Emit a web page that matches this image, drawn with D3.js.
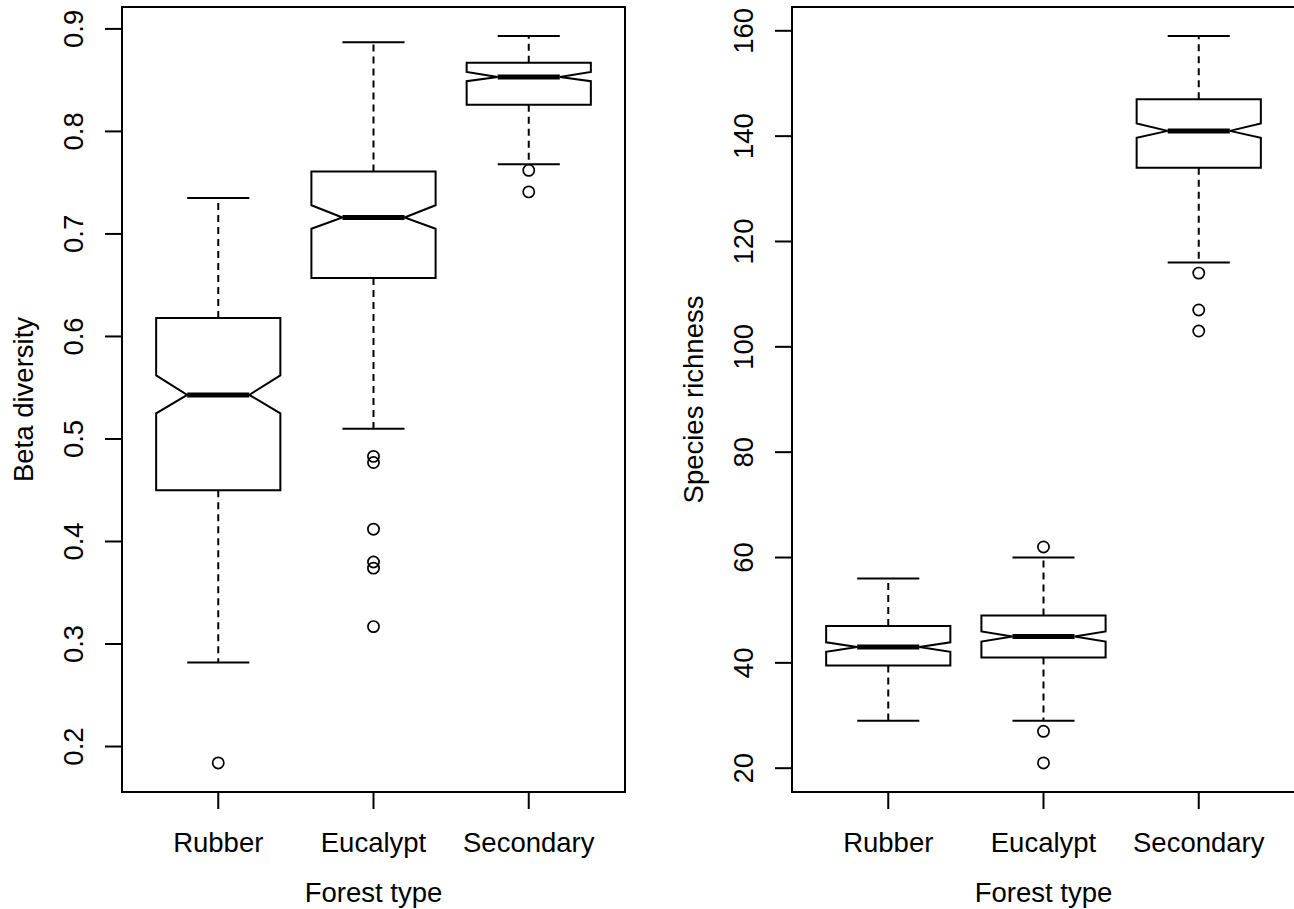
<!DOCTYPE html>
<html>
<head>
<meta charset="utf-8">
<script src="https://cdn.jsdelivr.net/npm/d3@7"></script>
<style>
  body { margin: 0; background: white; }
  text { font-family: "Liberation Sans", Arial, sans-serif; fill: black; }
</style>
</head>
<body>
<div id="container"></div>
<script>
// data
const forestTypes = ["Rubber", "Eucalypt", "Secondary"];

// beta diversity
const betaLowWhisker  = [0.282, 0.510, 0.768];
const betaQ1          = [0.450, 0.657, 0.826];
const betaNotchLo     = [0.525, 0.705, 0.849];
const betaMedian      = [0.543, 0.716, 0.853];
const betaNotchHi     = [0.562, 0.728, 0.858];
const betaQ3          = [0.618, 0.761, 0.867];
const betaHighWhisker = [0.735, 0.887, 0.893];
const betaOutliers    = [[0.184], [0.483, 0.477, 0.412, 0.380, 0.374, 0.317], [0.762, 0.741]];
const betaTicks       = [0.2, 0.3, 0.4, 0.5, 0.6, 0.7, 0.8, 0.9];

// species richness
const richLowWhisker  = [29, 29, 116];
const richQ1          = [39.5, 41, 134];
const richNotchLo     = [42.1, 44.05, 139.7];
const richMedian      = [43, 45, 141];
const richNotchHi     = [43.9, 45.95, 142.4];
const richQ3          = [47, 49, 147];
const richHighWhisker = [56, 60, 159];
const richOutliers    = [[], [62, 27, 21], [114, 107, 103]];
const richTicks       = [20, 40, 60, 80, 100, 120, 140, 160];

let viz = d3.select("#container")
  .append("svg")
    .attr("width", 1294)
    .attr("height", 909)
;

viz.append("rect")
    .attr("width", 1294)
    .attr("height", 909)
    .attr("fill", "white");

const plotTop = 7, plotBottom = 792, plotW = 503;
const fontSize = 27.5;

function panel(left, yTitle, lowW, q1, nLo, med, nHi, q3, highW, outs, ticks) {
  const right = left + plotW;

  // R style: data extent padded by 4%
  const allVals = lowW.concat(highW, outs.flat());
  const [mn, mx] = d3.extent(allVals);
  const pad = (mx - mn) * 0.04;
  const y = d3.scaleLinear().domain([mn - pad, mx + pad]).range([plotBottom, plotTop]);
  const x = d3.scalePoint().domain(forestTypes).range([left, right]).padding(0.62);
  const hw = x.step() * 0.4;

  const g = viz.append("g");

  // frame
  g.append("rect")
      .attr("x", left)
      .attr("y", plotTop)
      .attr("width", plotW)
      .attr("height", plotBottom - plotTop)
      .attr("fill", "none")
      .attr("stroke", "black")
      .attr("stroke-width", 2);

  const boxes = g.selectAll(".box")
    .data(forestTypes.map((f, i) => ({f, i})))
    .enter()
    .append("g");

  // whiskers
  boxes.append("line")
      .attr("x1", d => x(d.f)).attr("x2", d => x(d.f))
      .attr("y1", d => y(q3[d.i])).attr("y2", d => y(highW[d.i]))
      .attr("stroke", "black").attr("stroke-width", 2)
      .attr("stroke-dasharray", "7,5");
  boxes.append("line")
      .attr("x1", d => x(d.f)).attr("x2", d => x(d.f))
      .attr("y1", d => y(q1[d.i])).attr("y2", d => y(lowW[d.i]))
      .attr("stroke", "black").attr("stroke-width", 2)
      .attr("stroke-dasharray", "7,5");

  // caps
  boxes.append("line")
      .attr("x1", d => x(d.f) - hw / 2).attr("x2", d => x(d.f) + hw / 2)
      .attr("y1", d => y(highW[d.i])).attr("y2", d => y(highW[d.i]))
      .attr("stroke", "black").attr("stroke-width", 2);
  boxes.append("line")
      .attr("x1", d => x(d.f) - hw / 2).attr("x2", d => x(d.f) + hw / 2)
      .attr("y1", d => y(lowW[d.i])).attr("y2", d => y(lowW[d.i]))
      .attr("stroke", "black").attr("stroke-width", 2);

  // notched box
  boxes.append("path")
      .attr("d", d => {
        const c = x(d.f), i = d.i;
        return d3.line()([
          [c - hw, y(q3[i])], [c + hw, y(q3[i])], [c + hw, y(nHi[i])],
          [c + hw / 2, y(med[i])], [c + hw, y(nLo[i])], [c + hw, y(q1[i])],
          [c - hw, y(q1[i])], [c - hw, y(nLo[i])], [c - hw / 2, y(med[i])],
          [c - hw, y(nHi[i])]
        ]) + "Z";
      })
      .attr("fill", "white")
      .attr("stroke", "black")
      .attr("stroke-width", 2)
      .attr("stroke-linejoin", "miter");

  // median
  boxes.append("line")
      .attr("x1", d => x(d.f) - hw / 2).attr("x2", d => x(d.f) + hw / 2)
      .attr("y1", d => y(med[d.i])).attr("y2", d => y(med[d.i]))
      .attr("stroke", "black").attr("stroke-width", 5);

  // outliers
  boxes.selectAll("circle")
    .data(d => outs[d.i].map(v => ({f: d.f, v})))
    .enter()
    .append("circle")
      .attr("cx", d => x(d.f))
      .attr("cy", d => y(d.v))
      .attr("r", 5.6)
      .attr("fill", "none")
      .attr("stroke", "black")
      .attr("stroke-width", 1.7);

  // y axis
  const yt = g.selectAll(".ytick").data(ticks).enter().append("g");
  yt.append("line")
      .attr("x1", left - 17).attr("x2", left)
      .attr("y1", d => y(d)).attr("y2", d => y(d))
      .attr("stroke", "black").attr("stroke-width", 2);
  yt.append("text")
      .text(d => d)
      .attr("font-size", fontSize)
      .attr("text-anchor", "middle")
      .attr("transform", d => `translate(${left - 39},${y(d)}) rotate(-90)`);

  // x axis
  const xt = g.selectAll(".xtick").data(forestTypes).enter().append("g");
  xt.append("line")
      .attr("x1", d => x(d)).attr("x2", d => x(d))
      .attr("y1", plotBottom).attr("y2", plotBottom + 17)
      .attr("stroke", "black").attr("stroke-width", 2);
  xt.append("text")
      .text(d => d)
      .attr("font-size", fontSize)
      .attr("text-anchor", "middle")
      .attr("x", d => x(d))
      .attr("y", 852);

  // titles
  g.append("text")
      .text("Forest type")
      .attr("font-size", fontSize)
      .attr("text-anchor", "middle")
      .attr("x", (left + right) / 2)
      .attr("y", 902);
  g.append("text")
      .text(yTitle)
      .attr("font-size", fontSize)
      .attr("text-anchor", "middle")
      .attr("transform", `translate(${left - 89},${(plotTop + plotBottom) / 2}) rotate(-90)`);
}

panel(122, "Beta diversity", betaLowWhisker, betaQ1, betaNotchLo, betaMedian,
      betaNotchHi, betaQ3, betaHighWhisker, betaOutliers, betaTicks);
panel(792, "Species richness", richLowWhisker, richQ1, richNotchLo, richMedian,
      richNotchHi, richQ3, richHighWhisker, richOutliers, richTicks);
</script>
</body>
</html>
